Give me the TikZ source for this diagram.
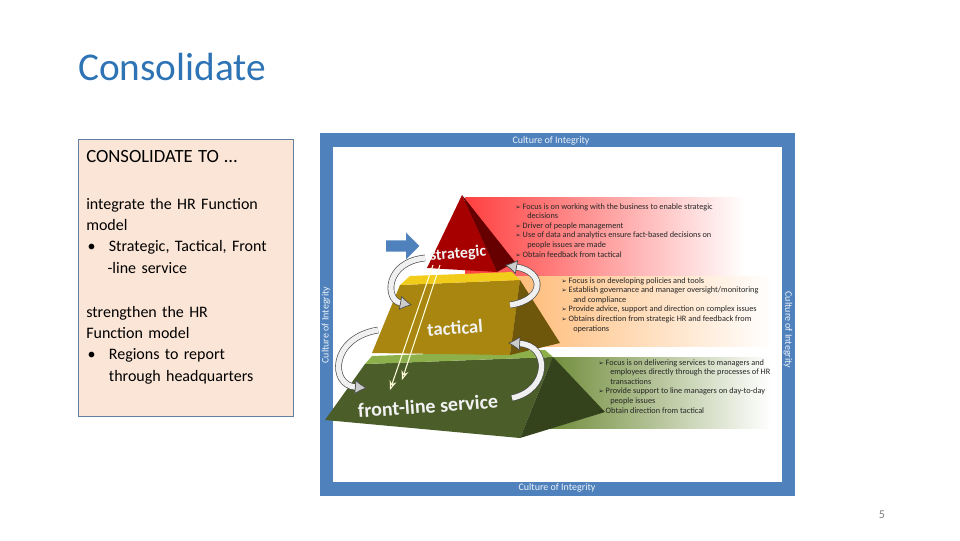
\documentclass[tikz,border=0pt]{standalone}
\usepackage{fontspec}
\setmainfont{Carlito}
\newfontfamily\symf{DejaVu Sans}
\usetikzlibrary{arrows.meta,shapes.arrows}
\definecolor{ttl}{HTML}{2E74B5}
\definecolor{frm}{HTML}{4F81BD}
\definecolor{peach}{HTML}{FBE5D6}
\definecolor{tacf}{HTML}{A8860F}
\definecolor{tacr}{HTML}{6E560A}
\definecolor{tact}{HTML}{F2CC1A}
\definecolor{flf}{HTML}{4B5E2A}
\definecolor{flr}{HTML}{34431C}
\definecolor{flt}{HTML}{8DB04A}
\newcommand{\bl}{{\symf\fontsize{5}{6}\selectfont ➢}\ }
\tikzset{
 bul/.style={anchor=north west,font=\fontsize{6.2}{7.2}\selectfont,align=left,inner sep=0pt,text=black!85},
 cyc/.style={draw=gray!60!black,double=gray!12,double distance=4pt,line width=0.5pt,-{Latex[length=9pt,width=11pt,fill=gray!40]}},
 lbl/.style={font=\bfseries\fontsize{12}{12}\selectfont,text=white,inner sep=0pt},
 fr/.style={text=white!90!frm,font=\fontsize{7.5}{8}\selectfont,inner sep=0pt}
}
\begin{document}
\begin{tikzpicture}[x=0.75pt,y=-0.75pt]
\useasboundingbox (0,0) rectangle (960,540);
\node[anchor=west,text=ttl,font=\fontsize{29.5}{30}\selectfont,inner sep=0pt] (title) at (78,67) {Consolidate};
% left box
\node[draw=frm!60!gray,fill=peach,minimum width=161.25pt,minimum height=207.75pt,anchor=north west,inner sep=0pt] (lbox) at (78,139) {};
\node[anchor=north west,font=\fontsize{12}{16}\selectfont,align=left,inner sep=0pt,text width=150pt] (ltext) at (86,150) {%
\fontsize{14}{16}\selectfont CONSOLIDATE TO \ldots\\[19pt]
\fontsize{12}{16}\selectfont integrate the HR Function\\ model\\
\hspace*{1pt}•\hspace{10pt}Strategic, Tactical, Front\\
\hspace*{16pt}-line service\\[17pt]
strengthen the HR\\ Function model\\
\hspace*{1pt}•\hspace{10pt}Regions to report\\
\hspace*{17pt}through headquarters};
% frame
\fill[frm] (320,133) rectangle (795,496);
\fill[white] (333,147) rectangle (782,482);
\node[fr] (ft) at (551,141) {Culture of Integrity};
\node[fr] (fb) at (557,488) {Culture of Integrity};
\node[fr,rotate=90] (fl) at (326,325) {Culture of Integrity};
\node[fr,rotate=-90] (frr) at (788,330) {Culture of Integrity};
% bands
\shade[left color=red!75,right color=white] (465,197) rectangle (745,276);
\shade[left color=orange!55,right color=white] (505,276) rectangle (772,346);
\shade[left color=flt!80!black,right color=white] (550,357) rectangle (770,428);
% pyramid
\fill[flf] (365,364) -- (553,357) -- (520,438) -- (325,420) -- cycle;
\fill[flr] (553,357) -- (605,412) -- (520,438) -- cycle;
\fill[flt] (365,364) -- (553,357) -- (545,350) -- (372,356) -- cycle;
\fill[tacf] (400,285) -- (520,280) -- (510,355) -- (372,353) -- cycle;
\fill[tacr] (520,280) -- (560,343) -- (510,355) -- cycle;
\fill[tact] (400,285) -- (520,280) -- (512,272) -- (410,276) -- cycle;
\fill[red!65!black] (462,195) -- (427,268) -- (497,272) -- cycle;
\fill[red!40!black] (462,195) -- (497,272) -- (515,262) -- cycle;
% cycle arrows
\draw[cyc] (425,258) .. controls (385,262) and (385,300) .. (412,305);
\draw[cyc] (510,305) .. controls (545,300) and (545,272) .. (505,265);
\draw[cyc] (378,330) .. controls (330,338) and (330,385) .. (367,388);
\draw[cyc] (512,398) .. controls (550,390) and (550,345) .. (508,343);
\draw[white!85!yellow,line width=0.8pt,-{Stealth[length=7pt,open]}] (433,265) -- (390,390);
\draw[white!85!yellow,line width=0.8pt,-{Stealth[length=7pt,open]}] (440,265) -- (402,380);
\node[single arrow,fill=frm,minimum height=25pt,minimum width=20pt,single arrow head extend=3pt,inner sep=2pt] (bluearr) at (400,246) {};
\node[lbl,rotate=5,text=gray!10] (ls) at (458,254) {strategic};
\node[lbl,rotate=4,font=\bfseries\fontsize{14}{14}\selectfont,text=gray!10] (lt) at (455,328) {tactical};
\node[lbl,rotate=4,font=\bfseries\fontsize{15}{15}\selectfont,text=gray!10] (lf) at (428,406) {front-line service};
% texts
\node[bul] (t1) at (515,203) {\bl Focus is on working with the business to enable strategic\\\hspace*{9pt}decisions\\\bl Driver of people management\\\bl Use of data and analytics ensure fact-based decisions on\\\hspace*{9pt}people issues are made\\\bl Obtain feedback from tactical};
\node[bul] (t2) at (561,277) {\bl Focus is on developing policies and tools\\\bl Establish governance and manager oversight/monitoring\\\hspace*{9pt}and compliance\\\bl Provide advice, support and direction on complex issues\\\bl Obtains direction from strategic HR and feedback from\\\hspace*{9pt}operations};
\node[bul] (t3) at (598,359) {\bl Focus is on delivering services to managers and\\\hspace*{9pt}employees directly through the processes of HR\\\hspace*{9pt}transactions\\\bl Provide support to line managers on day-to-day\\\hspace*{9pt}people issues\\\bl Obtain direction from tactical};
\node[text=gray,font=\fontsize{9}{10}\selectfont,inner sep=0pt] (pg) at (882,515) {5};
\end{tikzpicture}
\end{document}
